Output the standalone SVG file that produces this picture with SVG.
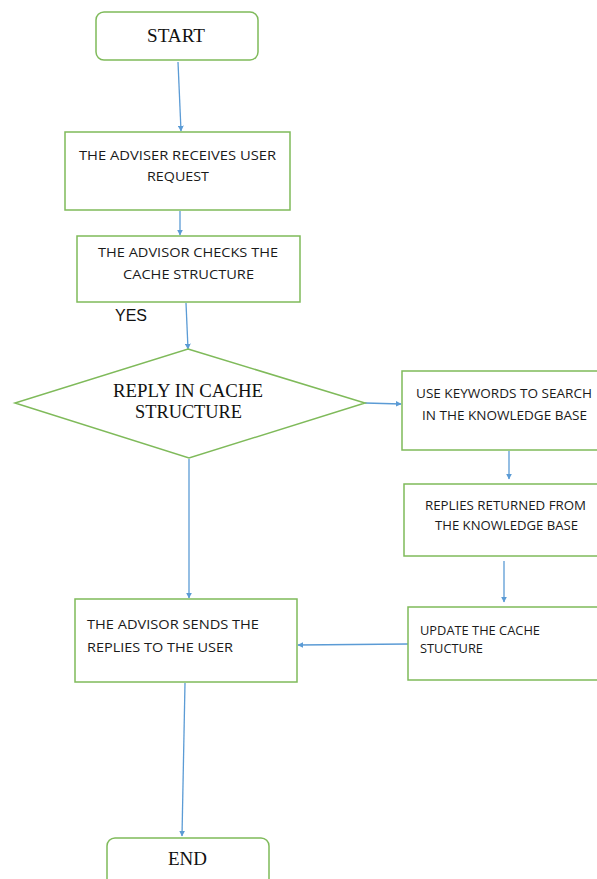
<svg xmlns="http://www.w3.org/2000/svg" width="597" height="879" viewBox="0 0 597 879">
<style>
.box{fill:#fff;stroke:#7fba5a;stroke-width:1.5}
.t{font-family:"Open Sans","Liberation Sans",sans-serif;font-size:13.5px;fill:#1a1a1a}
.s{font-family:"Liberation Serif",serif;font-size:18px;fill:#111}
.c{stroke:#5b9bd5;stroke-width:1.3;fill:none;marker-end:url(#ah)}
</style>
<defs>
<marker id="ah" viewBox="0 0 10 10" refX="9" refY="5" markerWidth="6" markerHeight="6" orient="auto" markerUnits="userSpaceOnUse"><path d="M0,0 L10,5 L0,10 z" fill="#5b9bd5"/></marker>
</defs>
<rect width="597" height="879" fill="#fff"/>
<g id="connectors">
<line class="c" x1="178" y1="62" x2="181" y2="131"/>
<line class="c" x1="180" y1="211" x2="180" y2="235"/>
<line class="c" x1="186" y1="303" x2="188" y2="349"/>
<line class="c" x1="365" y1="403" x2="401" y2="404"/>
<line class="c" x1="509" y1="451" x2="509" y2="479"/>
<line class="c" x1="504" y1="561" x2="504" y2="602"/>
<line class="c" x1="189" y1="459" x2="189" y2="598"/>
<line class="c" x1="408" y1="644" x2="298" y2="645"/>
<line class="c" x1="185" y1="683" x2="182" y2="836"/>
</g>
<g id="start">
<rect class="box" x="96" y="12" width="162" height="48" rx="8"/>
<text class="s" x="147" y="42" textLength="58" lengthAdjust="spacingAndGlyphs">START</text>
</g>
<g id="receive">
<rect class="box" x="65" y="132" width="225" height="78"/>
<text class="t" x="79" y="160" textLength="197" lengthAdjust="spacingAndGlyphs">THE ADVISER RECEIVES USER</text>
<text class="t" x="147" y="181" textLength="62" lengthAdjust="spacingAndGlyphs">REQUEST</text>
</g>
<g id="check">
<rect class="box" x="77" y="236" width="223" height="66"/>
<text class="t" x="98" y="257" textLength="180" lengthAdjust="spacingAndGlyphs">THE ADVISOR CHECKS THE</text>
<text class="t" x="123" y="279" textLength="131" lengthAdjust="spacingAndGlyphs">CACHE STRUCTURE</text>
</g>
<g id="yes">
<text x="115" y="321" font-family="Liberation Sans, sans-serif" font-size="16" fill="#111">YES</text>
</g>
<g id="decision">
<polygon class="box" points="188,349 365,403 189,458 15,403"/>
<text class="s" x="113" y="397" textLength="150" lengthAdjust="spacingAndGlyphs">REPLY IN CACHE</text>
<text class="s" x="135" y="418" textLength="107" lengthAdjust="spacingAndGlyphs">STRUCTURE</text>
</g>
<g id="search">
<rect class="box" x="402" y="371" width="205" height="79"/>
<text class="t" x="416" y="398" textLength="176" lengthAdjust="spacingAndGlyphs">USE KEYWORDS TO SEARCH</text>
<text class="t" x="422" y="420" textLength="165" lengthAdjust="spacingAndGlyphs">IN THE KNOWLEDGE BASE</text>
</g>
<g id="returned">
<rect class="box" x="404" y="484" width="203" height="72"/>
<text class="t" x="425" y="510" textLength="161" lengthAdjust="spacingAndGlyphs">REPLIES RETURNED FROM</text>
<text class="t" x="435" y="530" textLength="143" lengthAdjust="spacingAndGlyphs">THE KNOWLEDGE BASE</text>
</g>
<g id="update">
<rect class="box" x="408" y="607" width="199" height="73"/>
<text class="t" x="420" y="635" textLength="120" lengthAdjust="spacingAndGlyphs">UPDATE THE CACHE</text>
<text class="t" x="420" y="653" textLength="63" lengthAdjust="spacingAndGlyphs">STUCTURE</text>
</g>
<g id="send">
<rect class="box" x="75" y="599" width="222" height="83"/>
<text class="t" x="87" y="629" textLength="172" lengthAdjust="spacingAndGlyphs">THE ADVISOR SENDS THE</text>
<text class="t" x="87" y="652" textLength="146" lengthAdjust="spacingAndGlyphs">REPLIES TO THE USER</text>
</g>
<g id="end">
<rect class="box" x="107" y="838" width="162" height="60" rx="8"/>
<text class="s" x="168" y="865" textLength="39" lengthAdjust="spacingAndGlyphs">END</text>
</g>
</svg>
